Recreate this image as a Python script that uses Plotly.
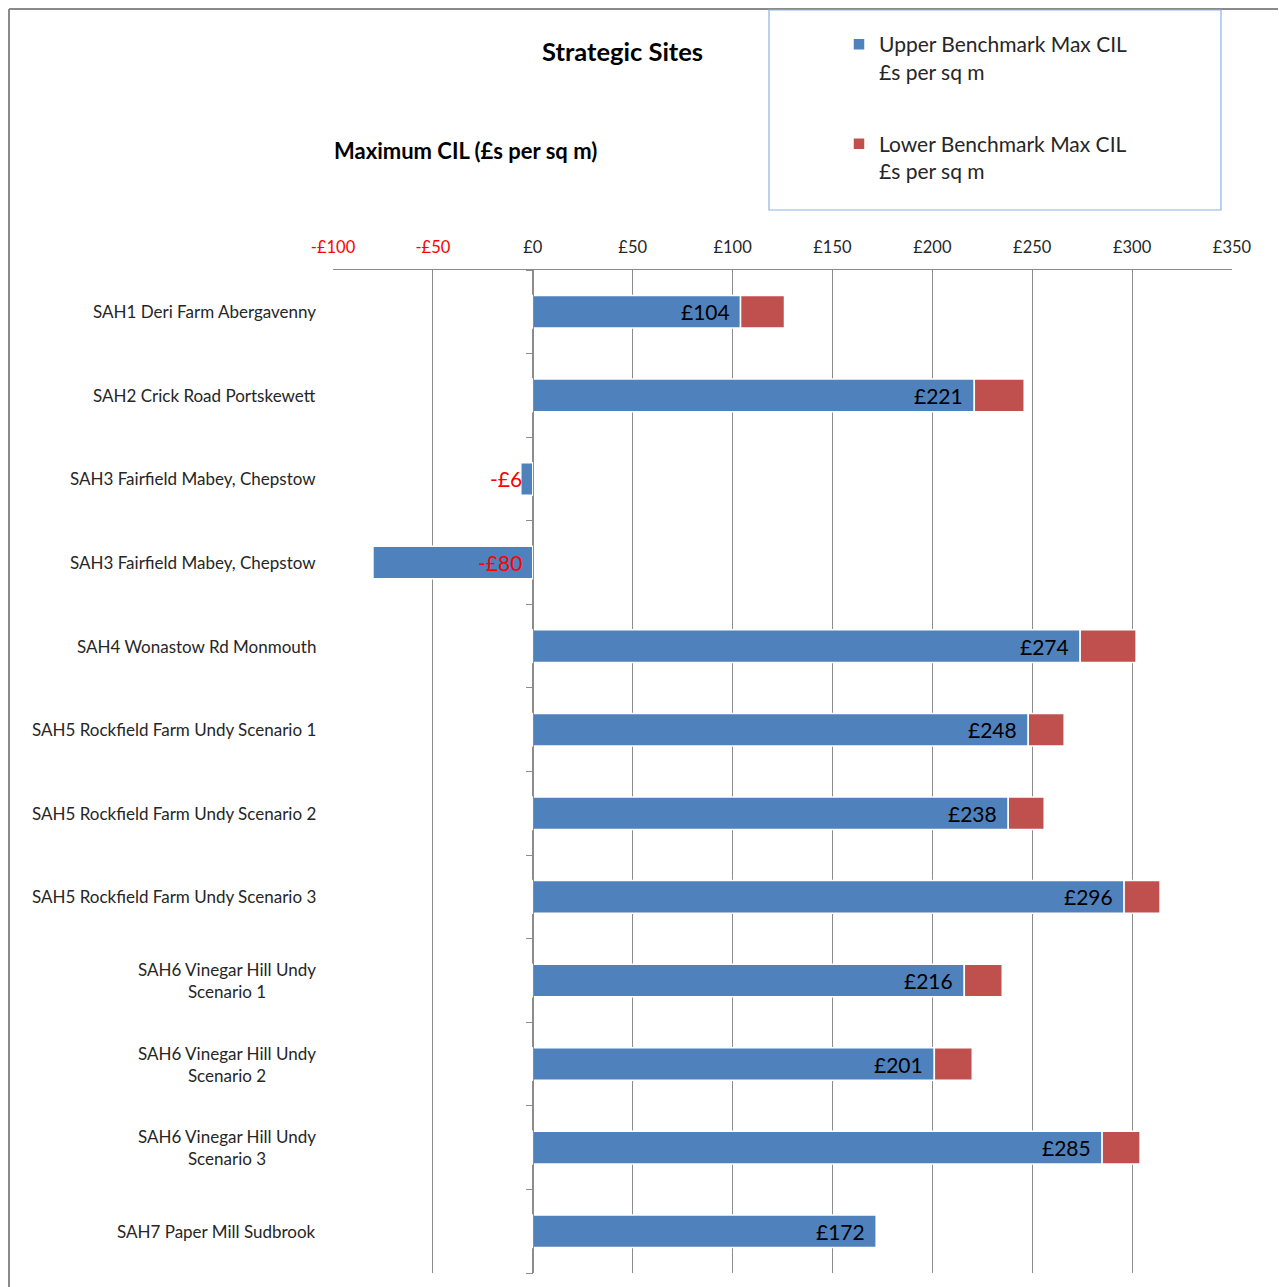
import plotly.graph_objects as go

# Site labels (top to bottom) and max CIL values, £ per sq m
sites = [
    "SAH1 Deri Farm Abergavenny",
    "SAH2 Crick Road Portskewett",
    "SAH3 Fairfield Mabey, Chepstow",
    "SAH3 Fairfield Mabey, Chepstow",
    "SAH4 Wonastow Rd Monmouth",
    "SAH5 Rockfield Farm Undy Scenario 1",
    "SAH5 Rockfield Farm Undy Scenario 2",
    "SAH5 Rockfield Farm Undy Scenario 3",
    "SAH6 Vinegar Hill Undy<br>Scenario 1",
    "SAH6 Vinegar Hill Undy<br>Scenario 2",
    "SAH6 Vinegar Hill Undy<br>Scenario 3",
    "SAH7 Paper Mill Sudbrook",
]
upper_cil = [104, 221, -6, -80, 274, 248, 238, 296, 216, 201, 285, 172]
lower_cil = [22, 25, 0, 0, 28, 18, 18, 18, 19, 19, 19, 0]

tick_vals = [-100, -50, 0, 50, 100, 150, 200, 250, 300, 350]

BLUE = '#4F81BD'
RED = '#C0504D'
GRID = '#8C8C8C'
FONT = 'Lato, Liberation Sans, sans-serif'

# the page body adds an 8px margin, so the figure is drawn that much smaller
OFF = 8
FIG_W, FIG_H = 1286 - OFF, 1287 - OFF
# plot area in figure pixels
L, T, W, H = 333 - OFF, 270 - OFF, 899, 1003


def px(x):
    # page pixel -> paper x
    return (x - OFF - L) / W


def py(y):
    # page pixel -> paper y
    return (T + H - (y - OFF)) / H


rows = list(range(len(sites)))

fig = go.Figure()

fig.add_trace(go.Bar(
    y=rows, x=upper_cil, orientation='h',
    name='Upper Benchmark Max CIL<br>£s per sq m',
    marker=dict(color=BLUE, line=dict(color='white', width=1.5)),
    width=0.39, legendgroup='a', hoverinfo='x'
))
fig.add_trace(go.Bar(
    y=rows, x=lower_cil, orientation='h',
    name='Lower Benchmark Max CIL<br>£s per sq m',
    marker=dict(color=RED, line=dict(color='white', width=1.5)),
    width=0.39, legendgroup='b', hoverinfo='x'
))

# data labels at the inner end of the blue bars
for i, v in enumerate(upper_cil):
    label = f'£{v}' if v >= 0 else f'-£{abs(v)}'
    fig.add_annotation(
        x=max(v, 0), y=i, xref='x', yref='y', text=label,
        showarrow=False, xanchor='right', xshift=-9,
        font=dict(size=21, color='black' if v >= 0 else '#FF0000', family=FONT)
    )

# category labels, centred lines like the original
for i, s in enumerate(sites):
    fig.add_annotation(
        x=px(318), y=i, xref='paper', yref='y', text=s,
        showarrow=False, xanchor='right', align='center',
        font=dict(size=17, color='#262626', family=FONT)
    )

tick_text = [
    f'<span style="color:#FF0000">-£{abs(t)}</span>' if t < 0 else f'£{t}'
    for t in tick_vals
]

fig.add_annotation(x=px(622), y=py(51), xref='paper', yref='paper',
                   text='<b>Strategic Sites</b>', showarrow=False,
                   xanchor='center', yanchor='middle',
                   font=dict(size=25.5, color='black', family=FONT))
fig.add_annotation(x=px(465), y=py(150), xref='paper', yref='paper',
                   text='<b>Maximum CIL (£s per sq m)</b>', showarrow=False,
                   xanchor='center', yanchor='middle',
                   font=dict(size=22, color='black', family=FONT))

# outer chart border and legend box
fig.add_shape(type='line', xref='paper', yref='paper',
              x0=px(9), x1=px(9), y0=py(1300), y1=py(9),
              line=dict(color='#8A8A8A', width=2))
fig.add_shape(type='line', xref='paper', yref='paper',
              x0=px(9), x1=px(1300), y0=py(9), y1=py(9),
              line=dict(color='#8A8A8A', width=2))
fig.add_shape(type='rect', xref='paper', yref='paper',
              x0=px(769), x1=px(1221), y0=py(210), y1=py(10),
              line=dict(color='#8EB4E3', width=1.2), fillcolor='rgba(0,0,0,0)')

fig.update_layout(
    width=FIG_W, height=FIG_H,
    margin=dict(l=L, r=FIG_W - L - W, t=T, b=FIG_H - T - H),
    paper_bgcolor='white', plot_bgcolor='white',
    barmode='relative',
    font=dict(family=FONT, size=16, color='#262626'),
    showlegend=True,
    legend=dict(
        x=px(839), y=py(24), xanchor='left', yanchor='top',
        font=dict(size=21, color='#262626', family=FONT),
        bgcolor='rgba(0,0,0,0)', borderwidth=0,
        tracegroupgap=42, valign='top', traceorder='grouped'
    ),
    xaxis=dict(
        side='top', range=[-100, 350], tickvals=tick_vals, ticktext=tick_text,
        showgrid=True, gridcolor=GRID, gridwidth=1,
        showline=True, linecolor=GRID, linewidth=1,
        ticks='', zeroline=False, ticklabelstandoff=9,
        tickfont=dict(size=16.5, color='#262626', family=FONT),
        fixedrange=True
    ),
    yaxis=dict(
        range=[len(sites) - 0.5, -0.5],
        anchor='free', position=px(533),
        tickvals=[i - 0.5 for i in range(len(sites) + 1)],
        showticklabels=False, ticks='outside', ticklen=7, tickcolor=GRID,
        showline=True, linecolor=GRID, linewidth=1,
        showgrid=False, zeroline=False, fixedrange=True
    ),
)

fig.write_html("out.html")
